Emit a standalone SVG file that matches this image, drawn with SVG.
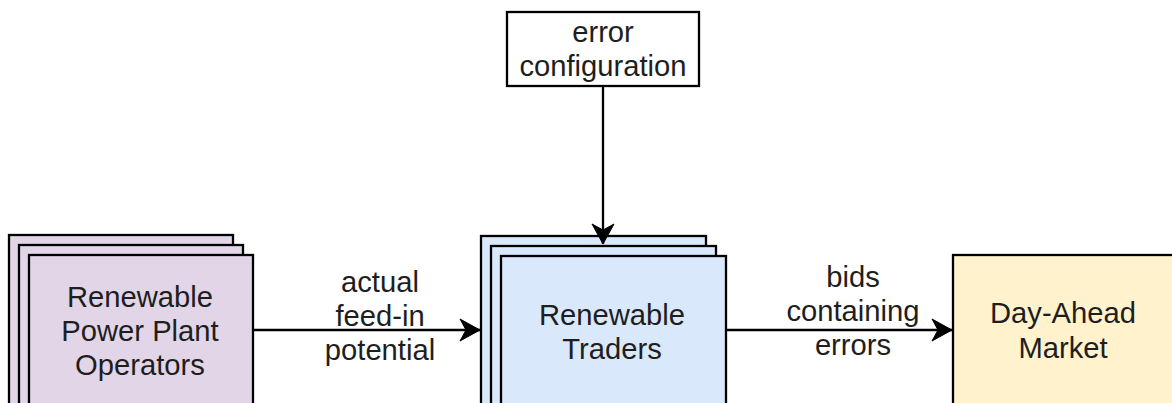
<svg xmlns="http://www.w3.org/2000/svg" width="1172" height="403" viewBox="0 0 1172 403">
  <style>
    .box { stroke: #000; stroke-width: 2.3; }
    .op { fill: #e1d5e7; }
    .tr { fill: #dae8fc; }
    .dam { fill: #fff2cc; }
    .plain { fill: #ffffff; }
    .lbl { font-family: "Liberation Sans", Arial, sans-serif; font-size: 29.2px; fill: #1e1e1e; text-anchor: middle; }
    .edge { fill: none; stroke: #000; stroke-width: 2.3; }
  </style>
  <defs>
    <marker id="arrow" markerUnits="userSpaceOnUse" markerWidth="22" markerHeight="24" viewBox="0 0 22 24" refX="21" refY="12" orient="auto">
      <path d="M1,1 L21,12 L1,23 L7,12 Z" fill="#000" stroke="#000" stroke-width="1"/>
    </marker>
  </defs>
  <rect width="1172" height="403" fill="#ffffff"/>

  <g id="operators">
    <rect class="box op" x="9" y="235" width="224" height="190"/>
    <rect class="box op" x="19" y="245" width="224" height="190"/>
    <rect class="box op" x="29" y="255" width="224" height="190"/>
    <text class="lbl" x="140" y="307">Renewable</text>
    <text class="lbl" x="140" y="341">Power Plant</text>
    <text class="lbl" x="140" y="375">Operators</text>
  </g>

  <g id="traders">
    <rect class="box tr" x="481" y="236" width="225" height="190"/>
    <rect class="box tr" x="491" y="246" width="225" height="190"/>
    <rect class="box tr" x="501" y="256" width="225" height="190"/>
    <text class="lbl" x="612" y="325">Renewable</text>
    <text class="lbl" x="612" y="359">Traders</text>
  </g>

  <g id="error-config">
    <rect class="box plain" x="507" y="12" width="192" height="74"/>
    <text class="lbl" x="603" y="42">error</text>
    <text class="lbl" x="603" y="76">configuration</text>
  </g>

  <g id="day-ahead">
    <rect class="box dam" x="953" y="255" width="224" height="190"/>
    <text class="lbl" x="1063" y="323">Day-Ahead</text>
    <text class="lbl" x="1063" y="358">Market</text>
  </g>

  <g id="connectors">
    <path class="edge" d="M253,330 L480,330" marker-end="url(#arrow)"/>
    <path class="edge" d="M603,86 L603,244" marker-end="url(#arrow)"/>
    <path class="edge" d="M726,330 L952,330" marker-end="url(#arrow)"/>
    <text class="lbl" x="380" y="292">actual</text>
    <text class="lbl" x="380" y="326">feed-in</text>
    <text class="lbl" x="380" y="360">potential</text>
    <text class="lbl" x="853" y="287">bids</text>
    <text class="lbl" x="853" y="321">containing</text>
    <text class="lbl" x="853" y="355">errors</text>
  </g>
</svg>
